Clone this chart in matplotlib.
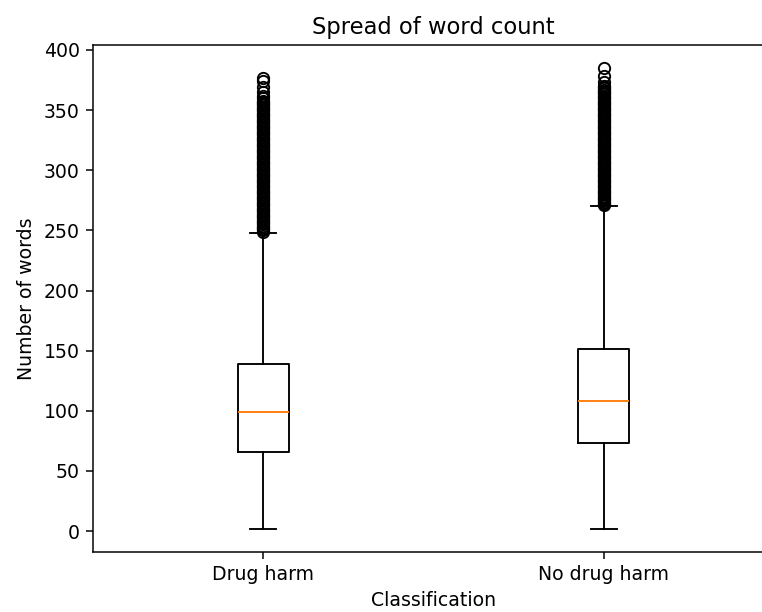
import matplotlib
matplotlib.use("Agg")
import matplotlib.pyplot as plt

categories = ["Drug harm", "No drug harm"]
whislo = [2, 2]
q1 = [66, 73]
median = [99, 108]
q3 = [139, 151]
whishi = [248, 270]

fliers_drug_harm = [
    249, 250, 251, 252, 253, 254, 255, 256, 257, 258, 259, 260, 261, 262, 263, 264, 265, 266, 267, 268,
    269, 270, 271, 272, 273, 274, 275, 276, 277, 278, 279, 280, 281, 282, 283, 284, 285, 286, 287, 288,
    289, 290, 291, 292, 293, 294, 295, 296, 297, 298, 299, 300, 301, 302, 303, 304, 305, 306, 307, 308,
    309, 310, 311, 312, 313, 314, 315, 316, 317, 318, 319, 320, 321, 322, 323, 324, 325, 326, 327, 328,
    329, 330, 331, 332, 333, 334, 335, 336, 337, 338, 339, 340, 341, 342, 343, 344, 345, 346, 347, 348,
    349, 350, 351, 352, 353, 354, 355, 356, 357, 358, 360, 362, 365, 369, 374, 377,
]
fliers_no_drug_harm = [
    271, 272, 273, 274, 275, 276, 277, 278, 279, 280, 281, 282, 283, 284, 285, 286, 287, 288, 289, 290,
    291, 292, 293, 294, 295, 296, 297, 298, 299, 300, 301, 302, 303, 304, 305, 306, 307, 308, 309, 310,
    311, 312, 313, 314, 315, 316, 317, 318, 319, 320, 321, 322, 323, 324, 325, 326, 327, 328, 329, 330,
    331, 332, 333, 334, 335, 336, 337, 338, 339, 340, 341, 342, 343, 344, 345, 346, 347, 348, 349, 350,
    351, 352, 353, 354, 355, 356, 357, 358, 359, 360, 361, 362, 363, 364, 365, 366, 367, 368, 369, 370,
    373, 378, 385,
]
fliers = [fliers_drug_harm, fliers_no_drug_harm]

stats = []
for i, name in enumerate(categories):
    stats.append(dict(label=name, whislo=whislo[i], q1=q1[i], med=median[i],
                      q3=q3[i], whishi=whishi[i], fliers=fliers[i]))

DPI = 136
fig = plt.figure(figsize=(762 / DPI, 612 / DPI), dpi=DPI)
ax = fig.add_axes([93 / 762, 1 - 551.7 / 612, (774 - 93) / 762, (551.7 - 45) / 612])
ax.bxp(stats, positions=[1, 2])
ax.set_title("Spread of word count")
ax.set_xlabel("Classification")
ax.set_ylabel("Number of words")
fig.savefig("out.png", dpi=DPI)
